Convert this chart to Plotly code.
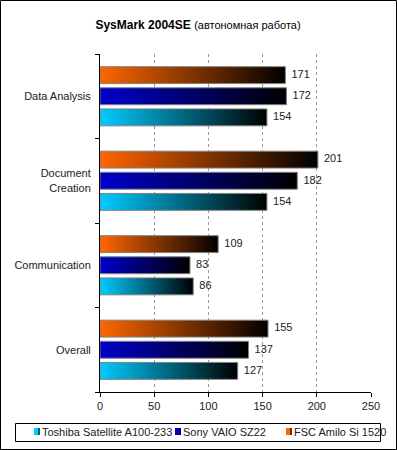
import plotly.graph_objects as go

# ---- data ----
categories = ["Data Analysis", "Document<br>Creation", "Communication", "Overall"]
series_names = ["FSC Amilo Si 1520", "Sony VAIO SZ22", "Toshiba Satellite A100-233"]
fsc_values = [171, 201, 109, 155]
sony_values = [172, 182, 83, 137]
toshiba_values = [154, 154, 86, 127]
x_ticks = [0, 50, 100, 150, 200, 250]

series_values = [fsc_values, sony_values, toshiba_values]
series_colors = ["#ff6600", "#0000cc", "#00ccff"]
series_dark = ["#7a2a00", "#000060", "#005f78"]
offsets = [-0.25, 0.0, 0.25]   # FSC top, Sony middle, Toshiba bottom
half_h = 0.1

W, H = 397, 450
ML, MR, MT, MB = 100, 26, 54, 58
PW, PH = W - ML - MR, H - MT - MB

FONT = "Liberation Sans, Arial, sans-serif"

fig = go.Figure()

for name, vals, color, off in zip(series_names, series_values, series_colors, offsets):
    for i, v in enumerate(vals):
        c = i + off
        fig.add_trace(go.Scatter(
            x=[0, v, v, 0, 0],
            y=[c - half_h, c - half_h, c + half_h, c + half_h, c - half_h],
            mode="lines",
            fill="toself",
            line=dict(color="#808080", width=1),
            fillgradient=dict(type="horizontal", start=0, stop=v,
                              colorscale=[[0, color], [1, "#000000"]]),
            name=name,
            showlegend=False,
            hoverinfo="skip",
        ))
    fig.add_trace(go.Scatter(
        x=vals,
        y=[i + off for i in range(len(vals))],
        mode="text",
        text=["\u00a0\u00a0" + str(v) for v in vals],
        textposition="middle right",
        textfont=dict(family=FONT, size=11, color="#222222"),
        showlegend=False,
        hoverinfo="skip",
    ))

def px_to_paper_x(px):
    return (px - ML) / PW

def px_to_paper_y(py):
    return (H - MB - py) / PH

# outer chart border
fig.add_shape(type="rect", xref="paper", yref="paper",
              x0=px_to_paper_x(0.5), x1=px_to_paper_x(W - 0.5),
              y0=px_to_paper_y(H - 0.5), y1=px_to_paper_y(0.5),
              line=dict(color="black", width=1), layer="above")

# legend (drawn as box + swatches + text, in the reference's compact layout)
fig.add_shape(type="rect", xref="paper", yref="paper",
              x0=px_to_paper_x(15.5), x1=px_to_paper_x(380.5),
              y0=px_to_paper_y(441.5), y1=px_to_paper_y(423.5),
              line=dict(color="black", width=1), fillcolor="white", layer="above")
legend_order = [2, 1, 0]          # Toshiba, Sony, FSC
legend_text_x = [40, 181, 292]
legend_cy = 432
for idx, tx in zip(legend_order, legend_text_x):
    fig.add_shape(type="rect", xref="paper", yref="paper",
                  x0=px_to_paper_x(tx - 6), x1=px_to_paper_x(tx - 2),
                  y0=px_to_paper_y(legend_cy + 3), y1=px_to_paper_y(legend_cy - 4),
                  line=dict(width=0), fillcolor=series_colors[idx], layer="above")
    fig.add_shape(type="rect", xref="paper", yref="paper",
                  x0=px_to_paper_x(tx - 2), x1=px_to_paper_x(tx),
                  y0=px_to_paper_y(legend_cy + 3), y1=px_to_paper_y(legend_cy - 4),
                  line=dict(width=0), fillcolor=series_dark[idx], layer="above")
    fig.add_annotation(xref="paper", yref="paper",
                       x=px_to_paper_x(tx), y=px_to_paper_y(legend_cy),
                       xanchor="left", yanchor="middle", showarrow=False,
                       text=series_names[idx],
                       font=dict(family=FONT, size=11, color="#222222"))

fig.update_layout(
    width=W, height=H,
    margin=dict(l=ML, r=MR, t=MT, b=MB, autoexpand=False),
    paper_bgcolor="white", plot_bgcolor="white",
    font=dict(family=FONT, size=11, color="#222222"),
    showlegend=False,
    title=dict(
        text="<b>SysMark 2004SE</b> <span style='font-size:11px'>(автономная работа)</span>",
        x=198 / W, xanchor="center", y=1 - 25 / H, yanchor="middle",
        font=dict(family=FONT, size=12, color="#000000"),
    ),
    xaxis=dict(
        range=[0, 250], tickmode="array", tickvals=x_ticks,
        ticks="outside", ticklen=4, tickcolor="black",
        showline=True, linecolor="black", linewidth=1,
        showgrid=True, gridcolor="#999999", griddash="dot", gridwidth=1,
        zeroline=False, fixedrange=True,
        tickfont=dict(family=FONT, size=11, color="#222222"),
    ),
    yaxis=dict(
        range=[3.5, -0.5], tickmode="array", tickvals=list(range(len(categories))),
        ticktext=categories, ticks="", showgrid=False, zeroline=False,
        showline=True, linecolor="black", linewidth=1,
        ticklabelstandoff=6,
        minor=dict(tickmode="array", tickvals=[-0.5, 0.5, 1.5, 2.5, 3.5],
                   ticks="outside", ticklen=4, tickcolor="black", showgrid=False),
        tickfont=dict(family=FONT, size=11, color="#222222"),
        fixedrange=True,
    ),
)

fig.write_html("out.html", config={"displayModeBar": False},
               post_script="document.body.style.margin='0';")
